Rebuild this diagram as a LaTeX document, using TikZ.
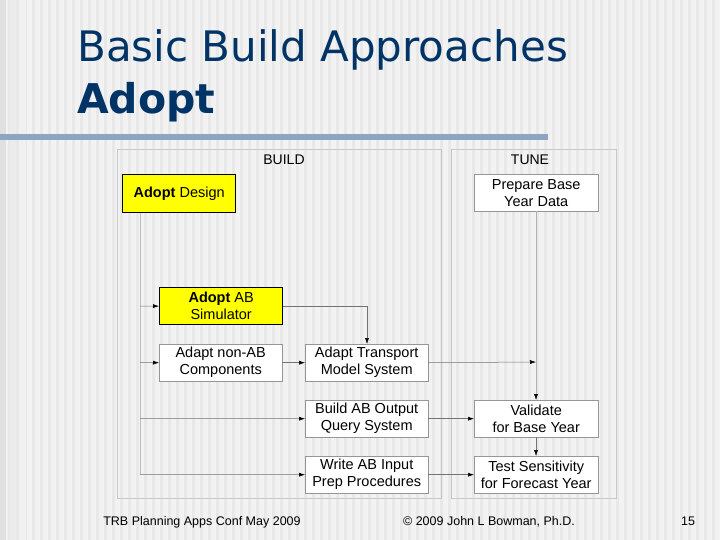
\documentclass[tikz,border=0pt]{standalone}
\usepackage{fontspec}
\setmainfont{Liberation Sans}
\newfontfamily\tahoma{DejaVu Sans}
\usetikzlibrary{arrows.meta}
\definecolor{titleblue}{RGB}{0,51,102}
\definecolor{barblue}{RGB}{140,165,195}
\definecolor{bg}{RGB}{242,242,242}
\definecolor{stripe}{RGB}{232,232,232}
\definecolor{panelline}{RGB}{200,200,200}
\definecolor{boxline}{RGB}{150,150,150}
\definecolor{yel}{RGB}{255,255,0}
\tikzset{
 box/.style={draw=boxline,fill=white,minimum width=123pt,minimum height=37pt,inner sep=0pt,align=center,font=\fontsize{14.5}{17}\selectfont,anchor=north west},
 ybox/.style={box,draw=black,line width=1.3pt,fill=yel},
 panel/.style={draw=panelline,line width=1pt},
 conn/.style={draw=black!55,line width=0.5pt},
 arr/.style={conn,-{Latex[length=6pt,width=4pt,color=black]}},
 foot/.style={font=\fontsize{12.5}{14}\selectfont,anchor=base},
}
\begin{document}
\begin{tikzpicture}[x=1pt,y=-1pt]
\useasboundingbox (0,0) rectangle (720,540);
\fill[bg] (0,0) rectangle (720,540);
\foreach \x in {0,8,...,712} \fill[stripe] (\x,0) rectangle (\x+3,540);
\fill[black!12] (0,0) rectangle (6,540);
\fill[black!8] (10,0) rectangle (16,540);
\fill[black!6] (20,0) rectangle (26,540);
\node[anchor=base west,inner sep=0pt,text=titleblue,font=\tahoma\fontsize{42}{44}\selectfont] (t1) at (77,62) {Basic Build Approaches};
\node[anchor=base west,inner sep=0pt,text=titleblue,font=\tahoma\bfseries\fontsize{41}{44}\selectfont] (t2) at (77,114) {Adopt};
\fill[barblue] (0,134) rectangle (548,140);
\draw[panel] (117,150) rectangle (441,498);
\draw[panel] (451,150) rectangle (616,498);
\node[font=\fontsize{14}{16}\selectfont] (build) at (284,160) {BUILD};
\node[font=\fontsize{14}{16}\selectfont] (tune) at (530,160) {TUNE};
\node[ybox,minimum width=113pt,minimum height=38pt] (design) at (122,174) {\textbf{Adopt} Design};
\node[ybox] (sim) at (159,287) {\textbf{Adopt} AB\\Simulator};
\node[box] (nonab) at (159,344) {Adapt non-AB\\Components};
\node[box] (trans) at (305,344) {Adapt Transport\\Model System};
\node[box] (query) at (305,400) {Build AB Output\\Query System};
\node[box] (write) at (305,456) {Write AB Input\\Prep Procedures};
\node[box,minimum width=124pt] (prep) at (474,174) {Prepare Base\\Year Data};
\node[box,minimum width=124pt] (valid) at (474,400) {Validate\\for Base Year};
\node[box,minimum width=124pt] (test) at (474,456) {Test Sensitivity\\for Forecast Year};
\coordinate (spine) at (140,475);
\coordinate (tend) at (536,362);
\draw[conn,draw=black!25] (design.south -| spine) -- (spine);
\draw[arr] (140,306) -- (sim.west);
\draw[arr] (140,362.5) -- (nonab.west);
\draw[arr] (140,418.5) -- (query.west);
\draw[arr] (140,474.5) -- (write.west);
\draw[arr] (sim.east) -| (367,344);
\draw[arr] (nonab.east) -- (trans.west);
\draw[arr] (trans.east) -- (tend);
\draw[arr,draw=black!30] (prep.south -| tend) -- (valid.north -| tend);
\draw[arr] (valid.south -| tend) -- (test.north -| tend);
\draw[arr] (query.east) -- (valid.west);
\draw[arr] (write.east) -- (test.west);
\node[foot] (f1) at (202,525) {TRB Planning Apps Conf May 2009};
\node[foot] (f2) at (489,525) {© 2009 John L Bowman, Ph.D.};
\node[foot] (f3) at (688,525) {15};
\end{tikzpicture}
\end{document}
